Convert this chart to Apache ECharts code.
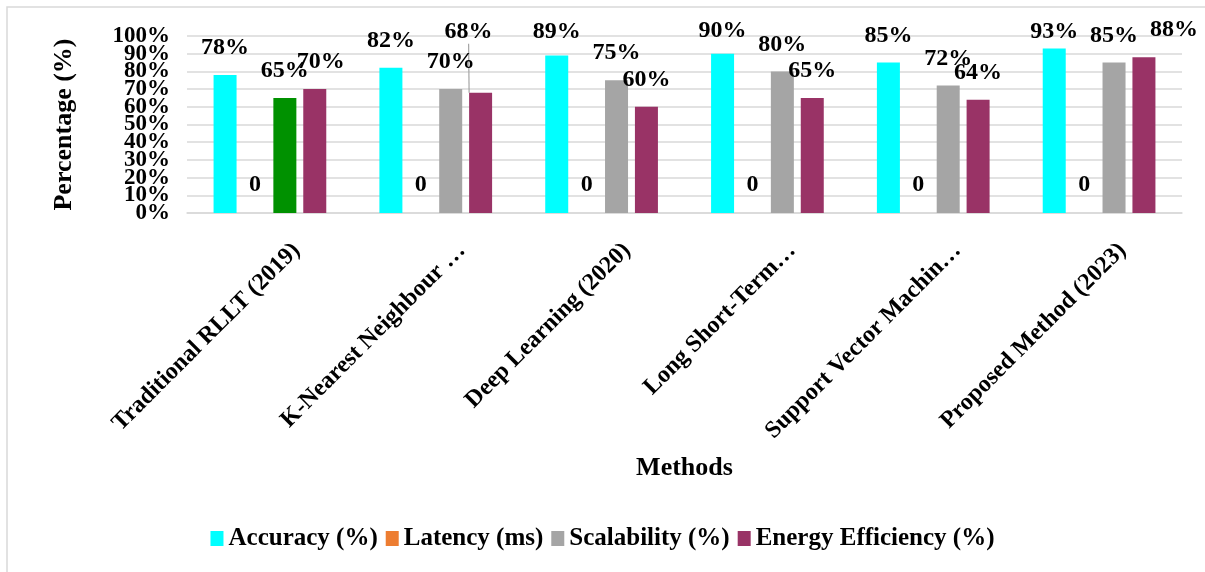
<!DOCTYPE html>
<html>
<head>
<meta charset="utf-8">
<script src="https://cdn.jsdelivr.net/npm/echarts@6/dist/echarts.min.js"></script>
<style>
html,body{margin:0;padding:0;background:#fff;}
#chart{width:1205px;height:572px;}
</style>
</head>
<body>
<div id="chart"></div>
<script>
// ---- data ----
const categories = [
  'Traditional RLLT (2019)',
  'K-Nearest Neighbour …',
  'Deep Learning (2020)',
  'Long Short-Term…',
  'Support Vector Machin…',
  'Proposed Method (2023)'
];
const seriesNames = ['Accuracy (%)', 'Latency (ms)', 'Scalability (%)', 'Energy Efficiency (%)'];
const accuracy = [78, 82, 89, 90, 85, 93];
const latency = [0, 0, 0, 0, 0, 0];
const scalability = [65, 70, 75, 80, 72, 85];
const energy = [70, 68, 60, 65, 64, 88];
const yTicks = [0, 10, 20, 30, 40, 50, 60, 70, 80, 90, 100];

// ---- styling ----
const FONT = 'Liberation Serif';
const colors = ['#00FFFF', '#ED7D31', '#A5A5A5', '#993366'];
const specialColor = { '2-0': '#009100' };
const labelAdjust = {
  '3-0': [6, 0],
  '3-1': [-12, -34],
  '0-2': [0, 3],
  '0-3': [0, 4],
  '0-5': [0, 10],
  '3-5': [30, 0]
};
const leaderLines = { '3-1': true };

const allValues = [accuracy, latency, scalability, energy];

const series = allValues.map((vals, s) => ({
  name: seriesNames[s],
  type: 'bar',
  xAxisIndex: 0,
  yAxisIndex: 0,
  barWidth: 23,
  barGap: '30%',
  itemStyle: { color: colors[s] },
  label: {
    show: true,
    position: 'top',
    distance: s === 1 ? 16 : 15,
    formatter: s === 1 ? '{c}' : '{c}%',
    fontFamily: FONT,
    fontWeight: 'bold',
    fontSize: 24,
    color: '#000'
  },
  labelLayout: function (p) {
    const a = labelAdjust[s + '-' + p.dataIndex];
    return a ? { dx: a[0], dy: a[1] } : {};
  },
  data: vals.map((v, i) => {
    const key = s + '-' + i;
    const item = { value: v };
    if (specialColor[key]) item.itemStyle = { color: specialColor[key] };
    if (leaderLines[key]) item.labelLine = { show: true, lineStyle: { color: '#A5A5A5', width: 1.2 } };
    return item;
  })
}));

const yMin = yTicks[0];
const yMax = yTicks[yTicks.length - 1];
const yStep = yTicks[1] - yTicks[0];
const yLabelStyle = { fontFamily: FONT, fontWeight: 'bold', fontSize: 23, color: '#000' };

// two stacked label layers so the tightly packed tick labels are all kept
function yLabelAxis(parity, extra) {
  return Object.assign({
    type: 'value',
    gridIndex: 0,
    position: 'left',
    offset: 0,
    min: yMin,
    max: yMax,
    interval: yStep,
    axisLine: { show: false },
    axisTick: { show: false },
    splitLine: { show: false },
    axisLabel: Object.assign({
      margin: 17,
      showMinLabel: true,
      showMaxLabel: true,
      formatter: function (v) { return (Math.round(v / yStep) % 2 === parity) ? v + '%' : ''; }
    }, yLabelStyle)
  }, extra || {});
}

const chart = echarts.init(document.getElementById('chart'), null, { renderer: 'canvas' });
chart.setOption({
  animation: false,
  backgroundColor: '#fff',
  graphic: [{
    type: 'rect',
    shape: { x: 7, y: 7, width: 1230, height: 600 },
    style: { fill: 'none', stroke: '#D9D9D9', lineWidth: 1.5 },
    silent: true
  }],
  grid: [
    { left: 187, right: 23, top: 36, bottom: 359 },
    { left: 214, right: -4, top: 36, bottom: 359 }
  ],
  legend: {
    bottom: 16,
    left: 'center',
    itemWidth: 13,
    itemHeight: 15,
    itemGap: 8,
    icon: 'rect',
    textStyle: { fontFamily: FONT, fontWeight: 'bold', fontSize: 25, color: '#000' },
    data: seriesNames
  },
  xAxis: [{
    type: 'category',
    gridIndex: 0,
    data: categories,
    name: 'Methods',
    nameLocation: 'middle',
    nameGap: 242,
    nameTextStyle: { fontFamily: FONT, fontWeight: 'bold', fontSize: 26, color: '#000' },
    axisLine: { lineStyle: { color: '#D9D9D9', width: 1.5 } },
    axisTick: { show: false },
    axisLabel: { show: false }
  }, {
    type: 'category',
    gridIndex: 1,
    data: categories,
    axisLine: { show: false },
    axisTick: { show: false },
    splitLine: { show: false },
    axisLabel: {
      rotate: 45,
      interval: 0,
      margin: 34,
      fontFamily: FONT,
      fontWeight: 'bold',
      fontSize: 24,
      color: '#000'
    }
  }],
  yAxis: [
    yLabelAxis(0, {
      name: 'Percentage (%)',
      nameLocation: 'middle',
      nameGap: 110,
      nameTextStyle: { fontFamily: FONT, fontWeight: 'bold', fontSize: 26, color: '#000' },
      splitLine: { show: true, lineStyle: { color: '#D9D9D9', width: 1.5 } }
    }),
    yLabelAxis(1),
    {
      type: 'value',
      gridIndex: 1,
      min: yMin,
      max: yMax,
      interval: yStep,
      show: false
    }
  ],
  series: series
});
</script>
</body>
</html>
